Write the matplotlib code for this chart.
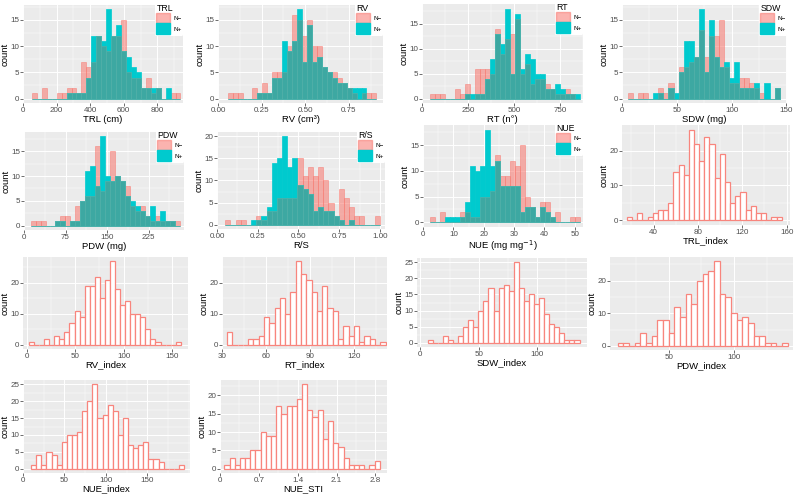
import numpy as np
import matplotlib.pyplot as plt
from matplotlib.patches import Patch
from matplotlib.ticker import AutoMinorLocator

plt.rcParams['font.family'] = ['Liberation Sans', 'DejaVu Sans']

# ---- data: bin counts (30 bins each) ----
# two-group panels: N- and N+
TRL_lo, TRL_w = 53, 29.5
TRL_nm = [1,0,2,0,0,1,1,2,2,1,7,6,7,12,10,9,12,12,15,5,4,4,2,4,1,2,0,0,1,1]
TRL_np = [0,0,0,0,0,0,0,1,1,1,1,4,12,12,11,17,12,14,9,8,6,5,2,2,2,2,0,2,0,0]

RV_lo, RV_w = 0.0552, 0.02843
RV_nm = [1,1,1,0,0,2,1,3,1,5,5,5,10,16,15,12,15,10,10,6,5,5,4,3,2,1,0,1,1,1]
RV_np = [0,0,0,0,0,0,1,1,1,4,4,11,9,11,17,7,14,7,8,6,5,4,3,3,2,2,2,2,0,0]

RT_lo, RT_w = 45.2, 27.2
RT_nm = [1,1,1,0,0,2,1,3,0,6,6,6,5,14,9,12,13,16,5,7,3,4,4,3,2,1,1,2,1,0]
RT_np = [0,0,0,0,0,0,0,1,1,1,1,4,8,13,11,18,5,17,6,9,8,5,5,2,2,3,2,1,1,1]

SDW_lo, SDW_w = 5.5, 4.61
SDW_nm = [1,0,1,1,0,0,2,1,3,0,6,6,7,8,13,8,12,12,15,6,3,3,4,4,3,2,1,0,0,2]
SDW_np = [0,0,0,0,0,1,1,0,2,1,5,11,11,8,17,5,15,8,6,7,4,7,2,2,2,3,0,3,0,2]

PDW_lo, PDW_w = 11.9, 8.99
PDW_nm = [1,1,1,0,0,1,2,2,1,4,5,6,6,16,7,9,15,10,9,8,4,3,4,2,1,2,1,1,1,1]
PDW_np = [0,0,0,0,0,1,1,0,1,1,5,11,12,8,18,10,9,10,9,6,5,4,3,2,4,1,3,1,1,0]

RS_lo, RS_w = 0.051, 0.03163
RS_nm = [1,0,1,1,0,0,2,1,3,3,6,6,6,6,15,11,13,11,13,10,5,2,8,6,4,2,2,0,0,2]
RS_np = [0,0,0,0,0,1,1,2,4,14,15,20,13,15,9,8,7,3,4,3,3,2,1,0,1,0,0,0,0,0]

NUE_lo, NUE_w = 2.18, 1.648
NUE_nm = [1,0,2,0,0,0,2,2,1,1,5,5,6,13,9,9,12,11,15,5,3,1,4,4,1,2,0,0,1,1]
NUE_np = [0,0,0,1,1,1,1,4,11,10,11,18,11,12,7,7,7,7,2,3,3,1,3,2,1,0,0,0,0,0]

# single-series index panels
TRLi_lo, TRLi_w = 16, 4.65
TRLi = [1,0,2,0,1,2,3,3,5,14,16,13,26,22,17,24,22,12,19,11,5,7,8,3,4,2,2,0,1,1]
RVi_lo, RVi_w = 1.7, 5.26
RVi = [1,0,0,2,0,3,2,4,7,11,9,19,19,22,15,21,27,18,13,14,10,10,9,5,2,1,0,0,0,1]
RTi_lo, RTi_w = 33.3, 3.61
RTi = [4,0,0,0,2,2,3,9,7,12,15,10,17,27,23,21,17,11,19,12,11,2,6,3,6,1,3,2,0,1]
SDWi_lo, SDWi_w = 6.3, 4.34
SDWi = [1,0,0,2,1,0,2,5,7,5,10,13,17,10,17,18,16,25,17,13,15,12,14,9,6,5,3,1,1,1]
PDWi_lo, PDWi_w = 10.7, 4.35
PDWi = [1,1,0,1,4,1,3,8,8,4,12,9,16,13,20,22,23,26,16,15,10,8,9,7,3,3,1,1,0,1]
NUEi_lo, NUEi_w = 9.9, 6.15
NUEi = [1,4,1,5,4,1,8,10,10,11,17,20,25,15,16,19,17,10,15,7,6,7,8,3,3,2,0,0,0,1]
STI_lo, STI_w = 0.078, 0.0934
STI = [1,3,1,3,3,5,5,10,9,9,17,15,17,17,19,23,16,14,16,8,13,7,6,3,1,1,1,0,1,2]

PINK = '#F8766D'
CYAN = '#00CACE'
TEAL = '#3DA8A2'   # where the two groups overlap
W, H = 797, 497

fig = plt.figure(figsize=(W / 100, H / 100), dpi=100)


def make_ax(box):
    x0, y0, x1, y1 = box
    ax = fig.add_axes([x0 / W, 1 - y1 / H, (x1 - x0) / W, (y1 - y0) / H])
    ax.set_facecolor('#EBEBEB')
    for s in ax.spines.values():
        s.set_visible(False)
    ax.xaxis.set_minor_locator(AutoMinorLocator(2))
    ax.yaxis.set_minor_locator(AutoMinorLocator(2))
    ax.grid(which='major', color='white', lw=0.7)
    ax.grid(which='minor', color='white', lw=0.35)
    ax.set_axisbelow(True)
    ax.tick_params(which='major', length=2, width=0.5, color='#333333',
                   labelsize=5.8, labelcolor='#4D4D4D', pad=0.8)
    ax.tick_params(which='minor', length=0)
    ax.set_ylabel('count', fontsize=6.8, labelpad=0.5)
    return ax


def edges(lo, w, n):
    return lo + w * np.arange(n + 1)


def two_group(box, lo, w, nm, np_, xlab, title, xlim, xt, xtl, yt):
    ax = make_ax(box)
    e = edges(lo, w, len(nm))
    c = (e[:-1] + e[1:]) / 2
    both = np.minimum(nm, np_)
    ax.hist(c, bins=e, weights=nm, color=PINK, edgecolor=PINK, lw=0.6, alpha=0.55)
    ax.hist(c, bins=e, weights=np_, color=CYAN, edgecolor=CYAN, lw=0.5)
    ax.hist(c, bins=e, weights=both, color=TEAL, edgecolor='#55B0A8', lw=0.5)
    top = max(max(nm), max(np_))
    ax.set_ylim(-0.05 * top, 1.05 * top)
    ax.set_xlim(*xlim)
    ax.set_xticks(xt)
    ax.set_xticklabels(xtl)
    ax.set_yticks(yt)
    ax.set_xlabel(xlab, fontsize=6.8, labelpad=0.5)
    handles = [Patch(facecolor=PINK, edgecolor=PINK, alpha=0.55, label='N\u2212'),
               Patch(facecolor=CYAN, edgecolor=CYAN, label='N+')]
    leg = ax.legend(handles=handles, title=title, loc='upper right',
                    bbox_to_anchor=(1.0, 1.03), borderaxespad=0, fontsize=4.6,
                    title_fontsize=6.3, frameon=True, framealpha=1,
                    facecolor='white', edgecolor='white', handlelength=2.2,
                    handleheight=2.2, handletextpad=0.4, labelspacing=0.0,
                    borderpad=0.25, alignment='left')
    leg.get_frame().set_linewidth(0)
    return ax


def one_group(box, lo, w, vals, xlab, xlim, xt, xtl, yt):
    ax = make_ax(box)
    e = edges(lo, w, len(vals))
    c = (e[:-1] + e[1:]) / 2
    ax.hist(c, bins=e, weights=vals, facecolor='white', edgecolor='#F8857D', lw=0.9)
    top = max(vals)
    ax.set_ylim(-0.05 * top, 1.05 * top)
    ax.set_xlim(*xlim)
    ax.set_xticks(xt)
    ax.set_xticklabels(xtl)
    ax.set_yticks(yt)
    ax.set_xlabel(xlab, fontsize=6.8, labelpad=0.5)
    return ax


two_group((23, 5, 183, 103), TRL_lo, TRL_w, TRL_nm, TRL_np, 'TRL (cm)', 'TRL',
          (0, 953), [0, 200, 400, 600, 800], ['0', '200', '400', '600', '800'], [0, 5, 10, 15])
two_group((218, 5, 383, 103), RV_lo, RV_w, RV_nm, RV_np, 'RV (cm\u00b3)', 'RV',
          (0, 0.946), [0, 0.25, 0.5, 0.75], ['0.00', '0.25', '0.50', '0.75'], [0, 5, 10, 15])
two_group((422, 4, 583, 103), RT_lo, RT_w, RT_nm, RT_np, 'RT (n\u00b0)', 'RT',
          (0, 876), [0, 250, 500, 750], ['0', '250', '500', '750'], [0, 5, 10, 15])
two_group((622, 5, 787, 103), SDW_lo, SDW_w, SDW_nm, SDW_np, 'SDW (mg)', 'SDW',
          (0, 150.5), [0, 50, 100, 150], ['0', '50', '100', '150'], [0, 5, 10, 15])
two_group((24, 132, 184, 230), PDW_lo, PDW_w, PDW_nm, PDW_np, 'PDW (mg)', 'PDW',
          (0, 289), [0, 75, 150, 225], ['0', '75', '150', '225'], [0, 5, 10, 15])
two_group((217, 132, 385, 229), RS_lo, RS_w, RS_nm, RS_np, 'R/S', 'R/S',
          (0, 1.031), [0, 0.25, 0.5, 0.75, 1.0], ['0.00', '0.25', '0.50', '0.75', '1.00'], [0, 5, 10, 15, 20])
two_group((423, 125, 583, 227), NUE_lo, NUE_w, NUE_nm, NUE_np, 'NUE (mg mg$^{-1}$)', 'NUE',
          (0, 52.7), [0, 10, 20, 30, 40, 50], ['0', '10', '20', '30', '40', '50'], [0, 5, 10, 15])

one_group((622, 125, 790, 225), TRLi_lo, TRLi_w, TRLi, 'TRL_index',
          (11.5, 163), [40, 80, 120, 160], ['40', '80', '120', '160'], [0, 10, 20])
one_group((23, 257, 188, 349), RVi_lo, RVi_w, RVi, 'RV_index',
          (-4.5, 167), [0, 50, 100, 150], ['0', '50', '100', '150'], [0, 10, 20])
one_group((222, 257, 387, 349), RTi_lo, RTi_w, RTi, 'RT_index',
          (29.9, 142.6), [30, 60, 90, 120], ['30', '60', '90', '120'], [0, 10, 20])
one_group((417, 258, 587, 347), SDWi_lo, SDWi_w, SDWi, 'SDW_index',
          (-2.9, 142.9), [0, 50, 100], ['0', '50', '100'], [0, 5, 10, 15, 20, 25])
one_group((610, 257, 793, 350), PDWi_lo, PDWi_w, PDWi, 'PDW_index',
          (4.85, 145.2), [50, 100], ['50', '100'], [0, 10, 20])
one_group((23, 380, 190, 473), NUEi_lo, NUEi_w, NUEi, 'NUE_index',
          (0, 201.6), [0, 50, 100, 150], ['0', '50', '100', '150'], [0, 5, 10, 15, 20, 25])
one_group((220, 380, 387, 473), STI_lo, STI_w, STI, 'NUE_STI',
          (0, 3.01), [0, 0.7, 1.4, 2.1, 2.8], ['0', '0.7', '1.4', '2.1', '2.8'], [0, 5, 10, 15, 20])

fig.savefig('out.png', dpi=100, facecolor='white')
